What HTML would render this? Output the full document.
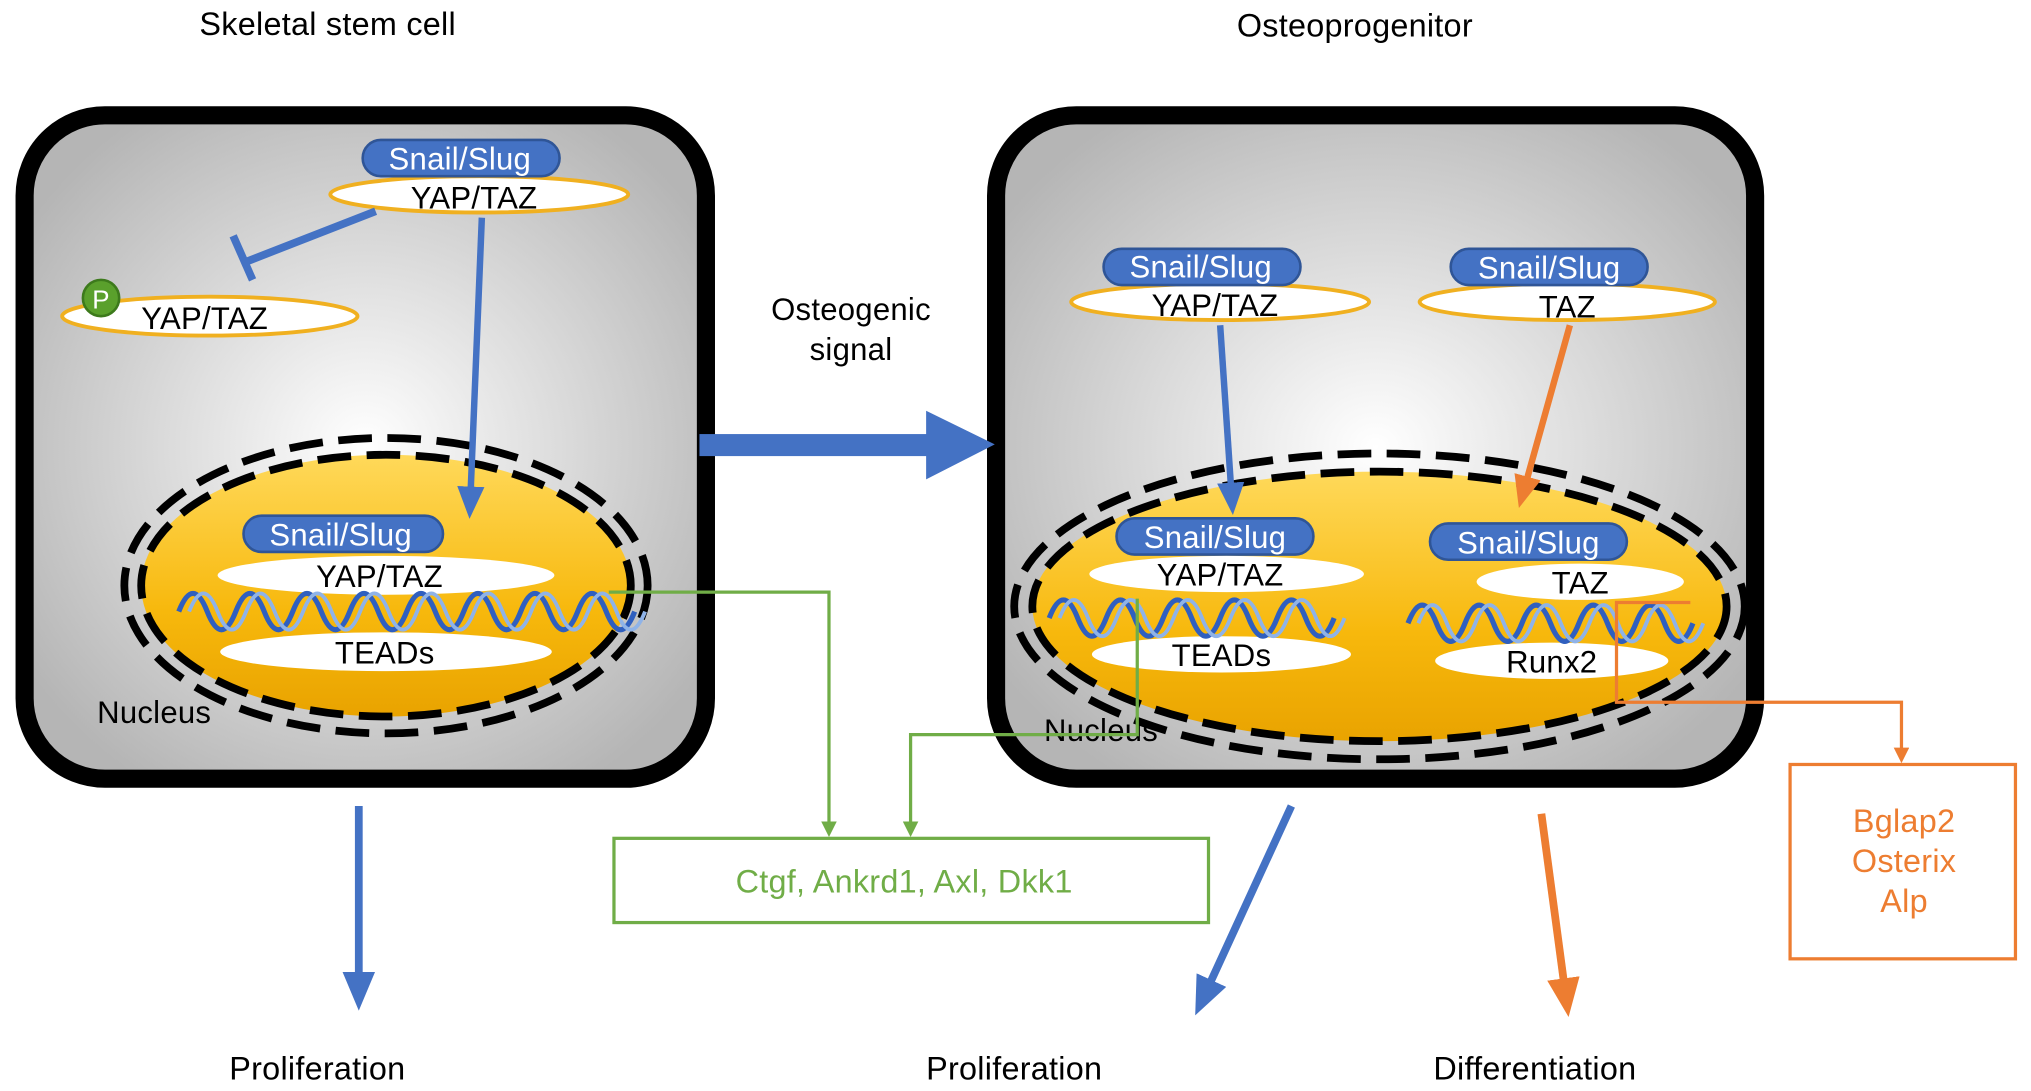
<!DOCTYPE html>
<html><head><meta charset="utf-8"><style>
html,body{margin:0;padding:0;background:#fff}
svg{display:block}
text{font-family:"Liberation Sans",Arial,sans-serif;letter-spacing:0.2px}
</style></head><body>
<svg width="2031" height="1091" viewBox="0 0 1568 842" preserveAspectRatio="none" xmlns="http://www.w3.org/2000/svg">
<defs>
<radialGradient id="cell" cx="50%" cy="50%" r="60%">
<stop offset="0" stop-color="#ffffff"/><stop offset="1" stop-color="#b5b5b5"/>
</radialGradient>
<linearGradient id="nuc" x1="0" y1="0" x2="0" y2="1">
<stop offset="0" stop-color="#ffd95a"/><stop offset="0.6" stop-color="#f7b80c"/><stop offset="1" stop-color="#e9a300"/>
</linearGradient>
<marker id="ab" markerWidth="5" markerHeight="5" refX="2.5" refY="2.5" orient="auto" markerUnits="strokeWidth"><path d="M0,0.4 L5,2.5 L0,4.6z" fill="#4472c4"/></marker>
<marker id="ao" markerWidth="5" markerHeight="5" refX="2.5" refY="2.5" orient="auto" markerUnits="strokeWidth"><path d="M0,0.4 L5,2.5 L0,4.6z" fill="#ed7d31"/></marker>
<marker id="ag" markerWidth="12" markerHeight="12" refX="6" refY="6" orient="auto" markerUnits="userSpaceOnUse"><path d="M0,0 L12,6 L0,12z" fill="#70ad47"/></marker>
<marker id="ao2" markerWidth="12" markerHeight="12" refX="6" refY="6" orient="auto" markerUnits="userSpaceOnUse"><path d="M0,0 L12,6 L0,12z" fill="#ed7d31"/></marker>
</defs>

<text x="253" y="27" font-size="25" text-anchor="middle">Skeletal stem cell</text>
<text x="1046" y="28" font-size="25" text-anchor="middle">Osteoprogenitor</text>

<rect x="19" y="89" width="526" height="512" rx="62" fill="url(#cell)" stroke="#000" stroke-width="14"/>
<rect x="769" y="89" width="586" height="512" rx="62" fill="url(#cell)" stroke="#000" stroke-width="14"/>

<ellipse cx="298" cy="452" rx="202" ry="114" fill="none" stroke="#000" stroke-width="6" stroke-dasharray="26,12"/>
<ellipse cx="298" cy="452" rx="189" ry="101" fill="url(#nuc)" stroke="#000" stroke-width="6" stroke-dasharray="26,12"/>
<ellipse cx="1065" cy="468" rx="282" ry="118" fill="none" stroke="#000" stroke-width="6" stroke-dasharray="26,12"/>
<ellipse cx="1065" cy="468" rx="268" ry="104" fill="url(#nuc)" stroke="#000" stroke-width="6" stroke-dasharray="26,12"/>

<ellipse cx="370" cy="150" rx="115" ry="14" fill="#fff" stroke="#f0b020" stroke-width="3"/>
<rect x="280" y="108" width="152" height="28" rx="14" fill="#4472c4" stroke="#2f5597" stroke-width="2"/>
<text x="355" y="131" font-size="24" fill="#fff" text-anchor="middle">Snail/Slug</text>
<text x="366" y="161" font-size="24" text-anchor="middle">YAP/TAZ</text>
<ellipse cx="162" cy="244" rx="114" ry="15" fill="#fff" stroke="#f0b020" stroke-width="3"/>
<circle cx="78" cy="230" r="14" fill="#5aa02c" stroke="#3d7a1c" stroke-width="2"/>
<text x="78" y="238" font-size="20" fill="#fff" text-anchor="middle">P</text>
<text x="158" y="254" font-size="24" text-anchor="middle">YAP/TAZ</text>
<line x1="290" y1="163" x2="190" y2="202" stroke="#4472c4" stroke-width="6"/>
<line x1="180" y1="182" x2="195" y2="216" stroke="#4472c4" stroke-width="6"/>
<line x1="372" y1="168" x2="363" y2="388" stroke="#4472c4" stroke-width="5" marker-end="url(#ab)"/>

<rect x="188" y="398" width="154" height="28" rx="14" fill="#4472c4" stroke="#2f5597" stroke-width="2"/>
<text x="263" y="421" font-size="24" fill="#fff" text-anchor="middle">Snail/Slug</text>
<ellipse cx="298" cy="444" rx="130" ry="15" fill="#fff"/>
<text x="293" y="453" font-size="24" text-anchor="middle">YAP/TAZ</text>
<ellipse cx="298" cy="503" rx="128" ry="15" fill="#fff"/>
<text x="297" y="512" font-size="24" text-anchor="middle">TEADs</text>
<path d="M138 472 q11 -28 22 0 t22 0 t22 0 t22 0 t22 0 t22 0 t22 0 t22 0 t22 0 t22 0 t22 0 t22 0 t22 0 t22 0 t22 0 t22 0" fill="none" stroke="#2f5fbf" stroke-width="4"/>
<path d="M146 472 q11 -28 22 0 t22 0 t22 0 t22 0 t22 0 t22 0 t22 0 t22 0 t22 0 t22 0 t22 0 t22 0 t22 0 t22 0 t22 0 t22 0" fill="none" stroke="#8fb3e8" stroke-width="3"/>
<text x="75" y="558" font-size="24">Nucleus</text>

<rect x="540" y="335" width="180" height="17" fill="#4472c4"/>
<path d="M715 317 L768 343 L715 370z" fill="#4472c4"/>
<text x="657" y="247" font-size="24" text-anchor="middle">Osteogenic</text>
<text x="657" y="278" font-size="24" text-anchor="middle">signal</text>

<ellipse cx="942" cy="233" rx="115" ry="14" fill="#fff" stroke="#f0b020" stroke-width="3"/>
<rect x="852" y="192" width="152" height="28" rx="14" fill="#4472c4" stroke="#2f5597" stroke-width="2"/>
<text x="927" y="214" font-size="24" fill="#fff" text-anchor="middle">Snail/Slug</text>
<text x="938" y="244" font-size="24" text-anchor="middle">YAP/TAZ</text>
<ellipse cx="1210" cy="233" rx="114" ry="14" fill="#fff" stroke="#f0b020" stroke-width="3"/>
<rect x="1120" y="192" width="152" height="28" rx="14" fill="#4472c4" stroke="#2f5597" stroke-width="2"/>
<text x="1196" y="215" font-size="24" fill="#fff" text-anchor="middle">Snail/Slug</text>
<text x="1210" y="245" font-size="24" text-anchor="middle">TAZ</text>
<line x1="942" y1="251" x2="951" y2="385" stroke="#4472c4" stroke-width="5" marker-end="url(#ab)"/>
<line x1="1212" y1="251" x2="1176" y2="380" stroke="#ed7d31" stroke-width="5" marker-end="url(#ao)"/>

<rect x="862" y="400" width="152" height="28" rx="14" fill="#4472c4" stroke="#2f5597" stroke-width="2"/>
<text x="938" y="423" font-size="24" fill="#fff" text-anchor="middle">Snail/Slug</text>
<ellipse cx="947" cy="443" rx="106" ry="14" fill="#fff"/>
<text x="942" y="452" font-size="24" text-anchor="middle">YAP/TAZ</text>
<ellipse cx="943" cy="505" rx="100" ry="14" fill="#fff"/>
<text x="943" y="514" font-size="24" text-anchor="middle">TEADs</text>
<path d="M810 477 q11 -28 22 0 t22 0 t22 0 t22 0 t22 0 t22 0 t22 0 t22 0 t22 0 t22 0" fill="none" stroke="#2f5fbf" stroke-width="4"/>
<path d="M818 477 q11 -28 22 0 t22 0 t22 0 t22 0 t22 0 t22 0 t22 0 t22 0 t22 0 t22 0" fill="none" stroke="#8fb3e8" stroke-width="3"/>
<rect x="1104" y="404" width="152" height="28" rx="14" fill="#4472c4" stroke="#2f5597" stroke-width="2"/>
<text x="1180" y="427" font-size="24" fill="#fff" text-anchor="middle">Snail/Slug</text>
<ellipse cx="1220" cy="449" rx="80" ry="14" fill="#fff"/>
<text x="1220" y="458" font-size="24" text-anchor="middle">TAZ</text>
<ellipse cx="1198" cy="510" rx="90" ry="14" fill="#fff"/>
<text x="1198" y="519" font-size="24" text-anchor="middle">Runx2</text>
<path d="M1087 481 q11 -28 22 0 t22 0 t22 0 t22 0 t22 0 t22 0 t22 0 t22 0 t22 0 t22 0" fill="none" stroke="#2f5fbf" stroke-width="4"/>
<path d="M1095 481 q11 -28 22 0 t22 0 t22 0 t22 0 t22 0 t22 0 t22 0 t22 0 t22 0 t22 0" fill="none" stroke="#8fb3e8" stroke-width="3"/>
<text x="806" y="572" font-size="24">Nucleus</text>

<polyline points="470,457 640,457 640,640" fill="none" stroke="#70ad47" stroke-width="2.5" marker-end="url(#ag)"/>
<polyline points="878,462 878,567 703,567 703,640" fill="none" stroke="#70ad47" stroke-width="2.5" marker-end="url(#ag)"/>
<rect x="474" y="647" width="459" height="65" fill="#fff" stroke="#70ad47" stroke-width="2.5"/>
<text x="698" y="689" font-size="25" fill="#70ad47" text-anchor="middle">Ctgf, Ankrd1, Axl, Dkk1</text>

<polyline points="1305,465 1248,465 1248,542 1468,542 1468,583" fill="none" stroke="#ed7d31" stroke-width="2.5" marker-end="url(#ao2)"/>
<rect x="1382" y="590" width="174" height="150" fill="#fff" stroke="#ed7d31" stroke-width="2.5"/>
<text x="1470" y="642" font-size="25" fill="#ed7d31" text-anchor="middle">Bglap2</text>
<text x="1470" y="673" font-size="25" fill="#ed7d31" text-anchor="middle">Osterix</text>
<text x="1470" y="704" font-size="25" fill="#ed7d31" text-anchor="middle">Alp</text>

<line x1="277" y1="622" x2="277" y2="765" stroke="#4472c4" stroke-width="6" marker-end="url(#ab)"/>
<line x1="997" y1="622" x2="929" y2="770" stroke="#4472c4" stroke-width="6" marker-end="url(#ab)"/>
<line x1="1190" y1="628" x2="1209" y2="770" stroke="#ed7d31" stroke-width="6" marker-end="url(#ao)"/>

<text x="245" y="833" font-size="25" text-anchor="middle">Proliferation</text>
<text x="783" y="833" font-size="25" text-anchor="middle">Proliferation</text>
<text x="1185" y="833" font-size="25" text-anchor="middle">Differentiation</text>
</svg>
</body></html>
